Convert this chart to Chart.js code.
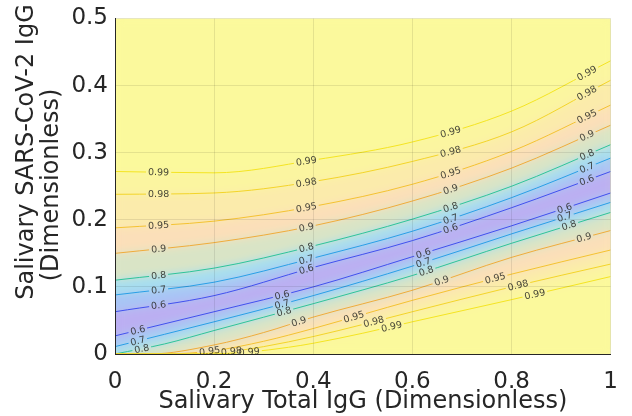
<!DOCTYPE html>
<html>
<head>
<meta charset="utf-8">
<script src="https://cdn.jsdelivr.net/npm/chart.js@4.4.1/dist/chart.umd.min.js"></script>
<style>
  html, body { margin: 0; padding: 0; background: #fff; }
  #wrap { width: 632px; height: 416px; }
</style>
</head>
<body>
<div id="wrap"><canvas id="chart" width="632" height="416"></canvas></div>
<script>
// contour lines: upper branch (above the trough) and lower branch
const upX = [0, 0.2, 0.4, 0.6, 0.8, 1];
const up60 = [0.063, 0.087, 0.129, 0.169, 0.218, 0.272];
const up70 = [0.088, 0.107, 0.143, 0.183, 0.233, 0.292];
const up80 = [0.110, 0.128, 0.161, 0.201, 0.250, 0.312];
const up90 = [0.150, 0.166, 0.191, 0.228, 0.277, 0.341];
const up95 = [0.188, 0.198, 0.220, 0.253, 0.302, 0.371];
const up98 = [0.238, 0.240, 0.257, 0.287, 0.331, 0.408];
const up99 = [0.272, 0.270, 0.289, 0.316, 0.362, 0.437];

const lo60X = [0, 0.2, 0.4, 0.6, 0.8, 1];
const lo60 = [0.027, 0.063, 0.100, 0.145, 0.191, 0.240];
const lo70X = [0, 0.2, 0.4, 0.6, 0.8, 1];
const lo70 = [0.011, 0.048, 0.087, 0.131, 0.179, 0.226];
const lo80X = [0, 0.1, 0.2, 0.4, 0.6, 0.8, 1];
const lo80 = [0, 0.015, 0.035, 0.075, 0.117, 0.165, 0.211];
const lo90X = [0, 0.07, 0.2, 0.3, 0.4, 0.6, 0.8, 1];
const lo90 = [0, 0, 0.0135, 0.032, 0.055, 0.095, 0.144, 0.184];
const lo95X = [0, 0.1, 0.2, 0.3, 0.4, 0.5, 0.6, 0.8, 1];
const lo95 = [0, 0, 0.005, 0.019, 0.038, 0.059, 0.080, 0.119, 0.155];
const lo98X = [0, 0.15, 0.235, 0.3, 0.4, 0.5, 0.6, 0.8, 1];
const lo98 = [0, 0, 0.004, 0.011, 0.026, 0.044, 0.063, 0.100, 0.134];
const lo99X = [0, 0.18, 0.27, 0.35, 0.4, 0.5, 0.6, 0.8, 1];
const lo99 = [0, 0, 0.003, 0.010, 0.016, 0.031, 0.048, 0.081, 0.1154];

// where the inline level labels sit (x)
const upLabelX = [0.088, 0.386, 0.677, 0.952];
const lo60LabelX = [0.046, 0.337, 0.622, 0.907];
const lo70LabelX = [0.046, 0.337, 0.622, 0.907];
const lo80LabelX = [0.054, 0.341, 0.628, 0.916];
const lo90LabelX = [0.371, 0.659, 0.946];
const lo95LabelX = [0.191, 0.482, 0.767];
const lo98LabelX = [0.235, 0.522, 0.813];
const lo99LabelX = [0.271, 0.558, 0.847];

const xTicks = [0, 0.2, 0.4, 0.6, 0.8, 1];
const yTicks = [0, 0.1, 0.2, 0.3, 0.4, 0.5];

const lineColor = {
  '0.6': '#4150ee', '0.7': '#2a9fe6', '0.8': '#2fc39a', '0.9': '#efac3c',
  '0.95': '#f4c232', '0.98': '#f3d42a', '0.99': '#f4e423'
};
// band between a line and the one below it, bottom to top
const bandFill = ['#fbf5a0', '#fbebab', '#fbdfb9', '#d9e4c6', '#a6def0', '#a8c4f6', '#bbaff2',
                  '#a8c4f6', '#a6def0', '#d9e4c6', '#fbdfb9', '#fbebab', '#fbf5a0'];
const fieldColor = '#fbf99c';
const ink = '#262626';
const labelFont = '9.5px "DejaVu Sans"';

const pts = (xs, ys) => xs.map((x, i) => ({x: x, y: ys[i]}));
const tickText = v => String(Number(v.toFixed(1)));

function contour(level, xs, ys, labelXs, band) {
  return {
    label: level,
    data: pts(xs, ys),
    labelAt: labelXs,
    borderColor: lineColor[level],
    borderWidth: 1,
    pointRadius: 0,
    cubicInterpolationMode: 'monotone',
    fill: band ? '-1' : false,
    backgroundColor: band || 'transparent'
  };
}

const datasets = [
  contour('0.99', lo99X, lo99, lo99LabelX, null),
  contour('0.98', lo98X, lo98, lo98LabelX, bandFill[0]),
  contour('0.95', lo95X, lo95, lo95LabelX, bandFill[1]),
  contour('0.9', lo90X, lo90, lo90LabelX, bandFill[2]),
  contour('0.8', lo80X, lo80, lo80LabelX, bandFill[3]),
  contour('0.7', lo70X, lo70, lo70LabelX, bandFill[4]),
  contour('0.6', lo60X, lo60, lo60LabelX, bandFill[5]),
  contour('0.6', upX, up60, upLabelX, bandFill[6]),
  contour('0.7', upX, up70, upLabelX, bandFill[7]),
  contour('0.8', upX, up80, upLabelX, bandFill[8]),
  contour('0.9', upX, up90, upLabelX, bandFill[9]),
  contour('0.95', upX, up95, upLabelX, bandFill[10]),
  contour('0.98', upX, up98, upLabelX, bandFill[11]),
  contour('0.99', upX, up99, upLabelX, bandFill[12])
];

// fills go to an offscreen canvas first so they can be softened like a shaded map
const softStart = {
  id: 'softStart',
  beforeDatasetsDraw(chart) {
    const main = chart.ctx;
    const off = document.createElement('canvas');
    off.width = main.canvas.width;
    off.height = main.canvas.height;
    const octx = off.getContext('2d');
    const a = chart.chartArea;
    octx.fillStyle = fieldColor;
    octx.fillRect(a.left, a.top, a.width, a.height);
    chart.$main = main;
    chart.$off = off;
    chart.ctx = octx;
  }
};
const softEnd = {
  id: 'softEnd',
  beforeDatasetsDraw(chart) {
    const main = chart.$main;
    const a = chart.chartArea;
    chart.ctx = main;
    main.save();
    main.beginPath();
    main.rect(a.left, a.top, a.width, a.height);
    main.clip();
    main.drawImage(chart.$off, 0, 0);
    main.filter = 'blur(4px)';
    main.drawImage(chart.$off, 0, 0);
    main.restore();
  }
};
Chart.unregister(Chart.Filler);
Chart.register(softStart, Chart.Filler, softEnd);

const contourLabels = {
  id: 'contourLabels',
  beforeDatasetsDraw(chart) {
    const ctx = chart.ctx;
    const xs = chart.scales.x;
    ctx.save();
    ctx.font = labelFont;
    const out = [];
    chart.data.datasets.forEach((ds, i) => {
      const line = chart.getDatasetMeta(i).dataset;
      line.updateControlPoints(chart.chartArea, 'x');
      ds.labelAt.forEach(v => {
        const px = xs.getPixelForValue(v);
        const a = line.interpolate({x: px - 4}, 'x');
        const b = line.interpolate({x: px + 4}, 'x');
        const c = line.interpolate({x: px}, 'x');
        if (!a || !b || !c) return;
        out.push({
          i: i, x: c.x, y: c.y, text: ds.label,
          ang: Math.atan2(b.y - a.y, b.x - a.x),
          w: ctx.measureText(ds.label).width
        });
      });
    });
    ctx.restore();
    chart.$labels = out;
  },
  beforeDatasetDraw(chart, args) {
    // leave a gap in the line where its label goes
    const ctx = chart.ctx;
    const a = chart.chartArea;
    ctx.save();
    ctx.beginPath();
    ctx.rect(a.left, a.top, a.width, a.height);
    chart.$labels.filter(l => l.i === args.index).forEach(l => {
      const w = l.w / 2 + 2, h = 4.5;
      const cs = Math.cos(l.ang), sn = Math.sin(l.ang);
      const c = [[-w, -h], [w, -h], [w, h], [-w, h]].map(p => [l.x + p[0] * cs - p[1] * sn, l.y + p[0] * sn + p[1] * cs]);
      ctx.moveTo(c[0][0], c[0][1]);
      ctx.lineTo(c[1][0], c[1][1]);
      ctx.lineTo(c[2][0], c[2][1]);
      ctx.lineTo(c[3][0], c[3][1]);
      ctx.closePath();
    });
    ctx.clip('evenodd');
  },
  afterDatasetDraw(chart) {
    chart.ctx.restore();
  },
  afterDatasetsDraw(chart) {
    const ctx = chart.ctx;
    const a = chart.chartArea;
    ctx.save();
    ctx.beginPath();
    ctx.rect(a.left, a.top, a.width, a.height);
    ctx.clip();
    ctx.font = labelFont;
    ctx.fillStyle = 'rgba(40,40,36,0.85)';
    ctx.textAlign = 'center';
    ctx.textBaseline = 'middle';
    chart.$labels.forEach(l => {
      ctx.save();
      ctx.translate(l.x, l.y);
      ctx.rotate(l.ang);
      ctx.fillText(l.text, 0, 0.5);
      ctx.restore();
    });
    ctx.restore();
  }
};

const yTitleLines = ['Salivary SARS-CoV-2 IgG', '(Dimensionless)'];
const yTitle = {
  id: 'yTitle',
  afterDraw(chart) {
    const ctx = chart.ctx;
    const base = [33, 58];
    const mid = [152, 185];
    ctx.save();
    ctx.font = '24px "DejaVu Sans"';
    ctx.fillStyle = ink;
    ctx.textAlign = 'center';
    ctx.textBaseline = 'alphabetic';
    yTitleLines.forEach((t, i) => {
      ctx.save();
      ctx.translate(base[i], mid[i]);
      ctx.rotate(-Math.PI / 2);
      ctx.fillText(t, 0, 0);
      ctx.restore();
    });
    ctx.restore();
  }
};

new Chart(document.getElementById('chart'), {
  type: 'line',
  data: { datasets: datasets },
  options: {
    responsive: false,
    animation: false,
    devicePixelRatio: 1,
    layout: { padding: { left: 0, right: 19, top: 16, bottom: 0 } },
    plugins: {
      legend: { display: false },
      tooltip: { enabled: false },
      filler: { propagate: false, drawTime: 'beforeDatasetsDraw' }
    },
    scales: {
      x: {
        type: 'linear', min: 0, max: 1,
        afterBuildTicks: s => { s.ticks = xTicks.map(v => ({value: v})); },
        afterFit: s => { s.height = 62; },
        grid: { color: 'rgba(0,0,0,0.09)', drawTicks: false, z: 1 },
        border: { color: ink, width: 1, z: 2 },
        ticks: { color: ink, padding: 14, callback: tickText, font: { family: 'DejaVu Sans', size: 23 } },
        title: {
          display: true, text: 'Salivary Total IgG (Dimensionless)', color: ink,
          font: { family: 'DejaVu Sans', size: 24 }, padding: { top: 0, bottom: 0 }
        }
      },
      y: {
        type: 'linear', min: 0, max: 0.5,
        afterBuildTicks: s => { s.ticks = yTicks.map(v => ({value: v})); },
        afterFit: s => { s.width = 115; },
        grid: { color: 'rgba(0,0,0,0.09)', drawTicks: false, z: 1 },
        border: { color: ink, width: 1, z: 2 },
        ticks: { color: ink, padding: 7, callback: tickText, font: { family: 'DejaVu Sans', size: 23, lineHeight: 1 } }
      }
    }
  },
  plugins: [contourLabels, yTitle]
});
</script>
</body>
</html>
